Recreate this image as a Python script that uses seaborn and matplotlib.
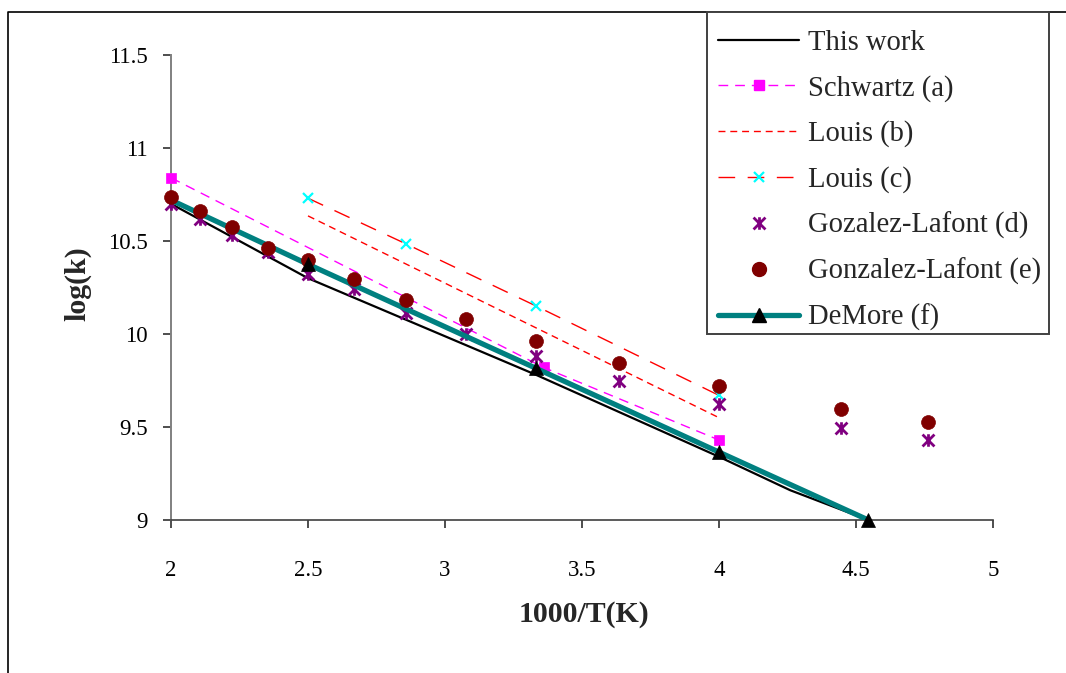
import matplotlib
matplotlib.use("Agg")
import matplotlib.pyplot as plt
import seaborn as sns
import pandas as pd
from matplotlib.path import Path
from matplotlib.lines import Line2D
from matplotlib.patches import Rectangle

# ---------------- data ----------------
x_this = [2.0, 2.5, 3.333, 4.0, 4.26, 4.545]
y_this = [10.70, 10.30, 9.78, 9.34, 9.16, 9.0]

x_schwartz = [2.0, 3.36, 4.0]
y_schwartz = [10.84, 9.82, 9.43]

x_louis_b = [2.5, 4.0]
y_louis_b = [10.635, 9.55]

x_louis_c = [2.5, 2.857, 3.333, 4.0]
y_louis_c = [10.73, 10.485, 10.15, 9.67]

x_gl = [2.0, 2.105, 2.222, 2.353, 2.5, 2.667, 2.857, 3.077, 3.333, 3.636, 4.0, 4.444, 4.762]
y_gl_d = [10.70, 10.62, 10.53, 10.44, 10.32, 10.24, 10.115, 10.0, 9.88, 9.75, 9.625, 9.495, 9.43]
y_gl_e = [10.735, 10.66, 10.575, 10.465, 10.40, 10.295, 10.185, 10.08, 9.96, 9.845, 9.72, 9.595, 9.525]

x_demore = [2.0, 2.5, 3.333, 4.0, 4.545]
y_demore = [10.72, 10.375, 9.815, 9.365, 9.0]

labels = ["This work", "Schwartz (a)", "Louis (b)", "Louis (c)",
          "Gozalez-Lafont (d)", "Gonzalez-Lafont (e)", "DeMore (f)"]
x_ticks = [2, 2.5, 3, 3.5, 4, 4.5, 5]
y_ticks = [9, 9.5, 10, 10.5, 11, 11.5]
x_ticklabels = ["2", "2.5", "3", "3.5", "4", "4.5", "5"]
y_ticklabels = ["9", "9.5", "10", "10.5", "11", "11.5"]

# ---------------- style ----------------
sns.set_style("white")
plt.rcParams['font.family'] = ['Liberation Serif', 'DejaVu Serif']

W, H = 1066, 673
fig = plt.figure(figsize=(W / 100, H / 100), dpi=100)
ax = fig.add_axes([171 / W, 1 - 520 / H, (993 - 171) / W, (520 - 55) / H])

star = Path([(-1, -1), (1, 1), (-1, 1), (1, -1), (0, -1.05), (0, 1.05)],
            [Path.MOVETO, Path.LINETO, Path.MOVETO, Path.LINETO, Path.MOVETO, Path.LINETO])

teal = "#008080"
magenta = "#FF00FF"
red = "#FF0000"
cyan = "#00FFFF"
purple = "#800080"
maroon = "#800000"

sch_ls = (0, (7, 5))
lb_ls = (0, (5, 3.5))
lc_ls = (0, (12, 9))

# This work
sns.lineplot(x=x_this, y=y_this, ax=ax, color="black", lw=1.6, sort=False, zorder=3)
# Schwartz
sns.lineplot(x=x_schwartz, y=y_schwartz, ax=ax, color=magenta, lw=1.0, linestyle=sch_ls,
             marker="s", markersize=7, markerfacecolor=magenta, markeredgecolor=magenta,
             markeredgewidth=0.5, sort=False, zorder=3, clip_on=False)
# Louis (b)
sns.lineplot(x=x_louis_b, y=y_louis_b, ax=ax, color=red, lw=1.0, linestyle=lb_ls, sort=False, zorder=3)
# Louis (c)
sns.lineplot(x=x_louis_c, y=y_louis_c, ax=ax, color=red, lw=1.0, linestyle=lc_ls,
             marker="x", markersize=7, markeredgecolor=cyan, markeredgewidth=1.6,
             sort=False, zorder=3)
# Gozalez-Lafont (d)
sns.lineplot(x=x_gl, y=y_gl_d, ax=ax, color=purple, linestyle="none",
             marker=star, markersize=9, markeredgecolor=purple, markeredgewidth=2.0,
             sort=False, zorder=4, clip_on=False)
# Gonzalez-Lafont (e)
sns.lineplot(x=x_gl, y=y_gl_e, ax=ax, color=maroon, linestyle="none",
             marker="o", markersize=10, markerfacecolor=maroon, markeredgecolor=maroon,
             markeredgewidth=0.5, sort=False, zorder=5, clip_on=False)
# DeMore (f)
sns.lineplot(x=x_demore, y=y_demore, ax=ax, color=teal, lw=3.8, sort=False, zorder=4)
sns.lineplot(x=x_demore[1:], y=y_demore[1:], ax=ax, color="black", linestyle="none",
             marker="^", markersize=10, markerfacecolor="black", markeredgecolor="black",
             markeredgewidth=0.5, sort=False, zorder=6, clip_on=False)

ax.set_xlim(2, 5)
ax.set_ylim(9, 11.5)
ax.set_xticks(x_ticks)
ax.set_xticklabels(x_ticklabels)
ax.set_yticks(y_ticks)
ax.set_yticklabels(y_ticklabels)
ax.grid(False)

for s in ["top", "right"]:
    ax.spines[s].set_visible(False)
ax.spines["left"].set_color("#808080")
ax.spines["left"].set_linewidth(1.4)
ax.spines["bottom"].set_color("#404040")
ax.spines["bottom"].set_linewidth(1.2)

ax.tick_params(axis="both", direction="out", length=6, width=1.2, color="#303030",
               labelsize=16.5, labelcolor="black", bottom=True, left=True)
ax.tick_params(axis="x", pad=23)
ax.tick_params(axis="y", pad=11)

ax.set_xlabel("1000/T(K)", fontsize=21.5, fontweight="bold")
ax.set_ylabel("log(k)", fontsize=21.5, fontweight="bold")
ax.xaxis.label.set_va("center")
ax.yaxis.label.set_va("center")
ax.xaxis.set_label_coords(0.502, (520 - 614) / 465)
ax.yaxis.set_label_coords((78 - 171) / 822, (520 - 284) / 465)

# legend
handles = [
    Line2D([], [], color="black", lw=1.6),
    Line2D([], [], color=magenta, lw=1.0, linestyle=sch_ls, marker="s", markersize=7,
           markerfacecolor=magenta, markeredgecolor=magenta),
    Line2D([], [], color=red, lw=1.0, linestyle=lb_ls),
    Line2D([], [], color=red, lw=1.0, linestyle=lc_ls, marker="x", markersize=7,
           markeredgecolor=cyan, markeredgewidth=1.6),
    Line2D([], [], color=purple, linestyle="none", marker=star, markersize=9,
           markeredgecolor=purple, markeredgewidth=2.0),
    Line2D([], [], color=maroon, linestyle="none", marker="o", markersize=10,
           markerfacecolor=maroon, markeredgecolor=maroon),
    Line2D([], [], color=teal, lw=3.8, marker="^", markersize=10,
           markerfacecolor="black", markeredgecolor="black"),
]
# legend frame (drawn separately so the box matches the reference)
fig.add_artist(Rectangle((707 / W, 1 - 334 / H), (1049 - 707) / W, (334 - 12) / H,
                         transform=fig.transFigure, facecolor="white",
                         edgecolor="#404040", lw=1.4, zorder=4))
leg = fig.legend(handles, labels, loc="upper left",
                 bbox_to_anchor=(705 / W, 1 - 17 / H), bbox_transform=fig.transFigure,
                 borderaxespad=0, fontsize=20.6, frameon=False,
                 handlelength=2.85, handletextpad=0.3, labelspacing=0.655,
                 borderpad=0.45, numpoints=1)
leg.set_zorder(5)

# outer chart frame
fig.add_artist(Line2D([8 / W, 8 / W, 1.0], [0, 1 - 11.5 / H, 1 - 11.5 / H],
                      transform=fig.transFigure, color="black", lw=1.2))

fig.savefig("out.png", dpi=100)
